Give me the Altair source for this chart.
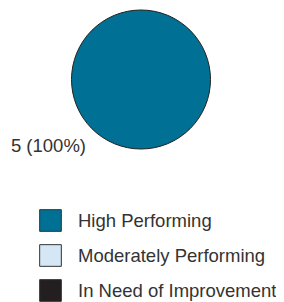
import altair as alt
import pandas as pd

categories = ["High Performing", "Moderately Performing", "In Need of Improvement"]
counts = [5, 0, 0]
colors = ["#007094", "#d5e6f5", "#231f20"]

total = sum(counts)
labels = [f"{c} ({round(100 * c / total)}%)" for c in counts]
df = pd.DataFrame({"category": categories, "count": counts, "label": labels})

color = alt.Color(
    "category:N",
    scale=alt.Scale(domain=categories, range=colors),
    sort=categories,
    legend=alt.Legend(
        title=None,
        orient="none",
        legendX=31,
        legendY=201,
        symbolType="square",
        symbolSize=470,
        symbolStrokeColor="#333333",
        symbolStrokeWidth=1,
        symbolOpacity=1,
        labelFont="Liberation Sans",
        labelFontSize=18.5,
        labelColor="#333333",
        labelOffset=16,
        labelLimit=400,
        rowPadding=8,
    ),
)

base = alt.Chart(df).transform_filter("datum.count > 0")

pie = base.mark_arc(
    radius=69.5, stroke="#222222", strokeWidth=1
).encode(
    theta=alt.Theta("count:Q", stack=True),
    color=color,
    x=alt.value(133),
    y=alt.value(71.5),
)

text = base.mark_text(
    radius=69.5,
    align="right",
    baseline="middle",
    dx=-55,
    dy=-3,
    font="Liberation Sans",
    fontSize=18.5,
    color="#333333",
).encode(
    theta=alt.Theta("count:Q", stack=True),
    text="label:N",
    x=alt.value(133),
    y=alt.value(71.5),
)

chart = (
    alt.layer(pie, text)
    .properties(width=268, height=294, autosize=alt.AutoSizeParams(type="none"), padding=0)
    .configure_view(stroke=None)
)

chart.save("out.html", embed_options={"renderer": "svg", "actions": False})
